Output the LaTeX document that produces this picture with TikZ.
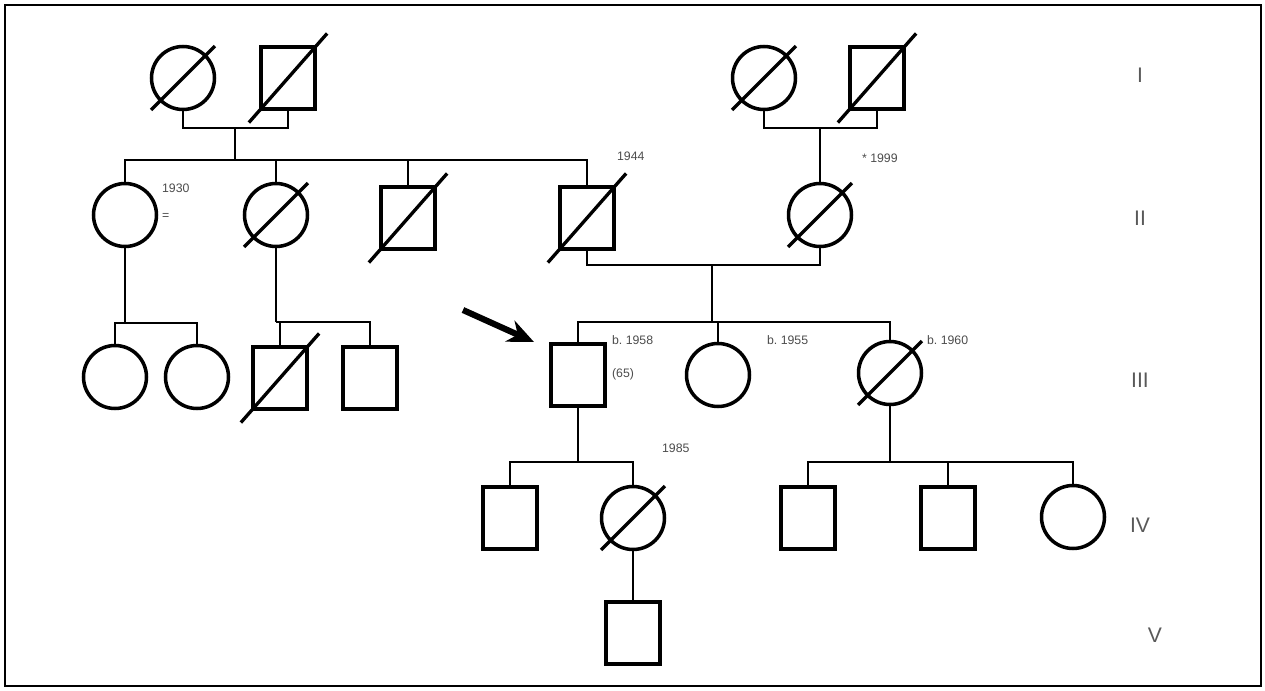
\documentclass[tikz,border=0pt]{standalone}
\usepackage{fontspec}
\setmainfont{Liberation Sans}
\usetikzlibrary{arrows.meta,calc,positioning}

\newcommand{\deceased}[1]{%
  \draw[slash] ($(#1.south west)!-0.18!(#1.north east)$) -- ($(#1.north east)!-0.18!(#1.south west)$);}

\begin{document}
\begin{tikzpicture}[
  x=0.02cm, y=-0.02cm,
  male/.style={draw, line width=2pt, minimum width=1.08cm,
               minimum height=1.24cm, inner sep=0pt},
  female/.style={circle, draw, line width=2pt, minimum size=1.26cm,
                 inner sep=0pt},
  lnk/.style={line width=1.4pt},
  slash/.style={line width=1.9pt},
  note/.style={font=\scriptsize, inner sep=1pt, anchor=west, gray!60!black},
  gen/.style={font=\large, gray!70!black},
  proband/.style={-{Stealth[length=15pt,width=13pt]}, line width=3.5pt}
]
  \useasboundingbox (0,0) rectangle (1265,690);
  \draw[line width=0.8pt] (5,5) rectangle (1261,686);

  \node[female] (i1) at (183,78) {};
  \node[male]   (i2) at (288,78) {};
  \node[female] (i3) at (764,78) {};
  \node[male]   (i4) at (877,78) {};

  \node[female] (ii1) at (125,215) {};
  \node[female] (ii2) at (276,215) {};
  \node[male]   (ii3) at (408,218) {};
  \node[male]   (ii4) at (587,218) {};
  \node[female] (ii5) at (820,215) {};

  \node[female] (iii1) at (115,377) {};
  \node[female] (iii2) at (197,377) {};
  \node[male]   (iii3) at (280,378) {};
  \node[male]   (iii4) at (370,378) {};
  \node[male]   (iii5) at (578,375) {};
  \node[female] (iii6) at (718,375) {};
  \node[female] (iii7) at (890,373) {};

  \node[male]   (iv1) at (510,518) {};
  \node[female] (iv2) at (633,518) {};
  \node[male]   (iv3) at (808,518) {};
  \node[male]   (iv4) at (948,518) {};
  \node[female] (iv5) at (1073,517) {};

  \node[male]   (v1) at (633,633) {};

  \foreach \p in {i1,i2,i3,i4,ii2,ii3,ii4,ii5,iii3,iii7,iv2}
    {\deceased{\p}}

  \coordinate (m1) at (235,128);
  \coordinate (s1) at (235,160);
  \draw[lnk] (i1.south) |- (m1) -| (i2.south);
  \draw[lnk] (m1) -- (s1);
  \draw[lnk] (ii1.north) |- (s1) -| (ii4.north);
  \draw[lnk] (ii2.north) -- (ii2.north |- s1);
  \draw[lnk] (ii3.north) -- (ii3.north |- s1);

  \coordinate (m2) at (820,128);
  \draw[lnk] (i3.south) |- (m2) -| (i4.south);
  \draw[lnk] (m2) -- (ii5.north);

  \coordinate (m3) at (712,265);
  \coordinate (s3) at (712,322);
  \draw[lnk] (ii4.south) |- (m3) -| (ii5.south);
  \draw[lnk] (m3) -- (s3);
  \draw[lnk] (iii5.north) |- (s3) -| (iii7.north);
  \draw[lnk] (iii6.north) -- (iii6.north |- s3);

  \coordinate (s4) at (125,323);
  \draw[lnk] (ii1.south) -- (s4);
  \draw[lnk] (iii1.north) |- (s4) -| (iii2.north);

  \coordinate (s5) at (276,322);
  \draw[lnk] (ii2.south) -- (s5);
  \draw[lnk] (iii3.north) |- (s5) -| (iii4.north);

  \coordinate (s6) at (578,462);
  \draw[lnk] (iii5.south) -- (s6);
  \draw[lnk] (iv1.north) |- (s6) -| (iv2.north);

  \coordinate (s7) at (890,462);
  \draw[lnk] (iii7.south) -- (s7);
  \draw[lnk] (iv3.north) |- (s7) -| (iv5.north);
  \draw[lnk] (iv4.north) -- (iv4.north |- s7);

  \draw[lnk] (iv2.south) -- (v1.north);

  \coordinate (pa) at (463,310);
  \coordinate (pb) at (534,342);
  \draw[proband] (pa) -- (pb);

  \node[note] (n1) at (160,188) {1930};
  \node[note] (n2) at (160,216) {=};
  \node[note] (n3) at (615,156) {1944};
  \node[note] (n4) at (860,158) {* 1999};
  \node[note] (n5) at (610,340) {b.~1958};
  \node[note] (n6) at (610,374) {(65)};
  \node[note] (n7) at (765,340) {b.~1955};
  \node[note] (n8) at (925,340) {b.~1960};
  \node[note] (n9) at (660,448) {1985};

  \node[gen] (g1) at (1140,75)  {I};
  \node[gen] (g2) at (1140,218) {II};
  \node[gen] (g3) at (1140,380) {III};
  \node[gen] (g4) at (1140,525) {IV};
  \node[gen] (g5) at (1155,635) {V};
\end{tikzpicture}
\end{document}
